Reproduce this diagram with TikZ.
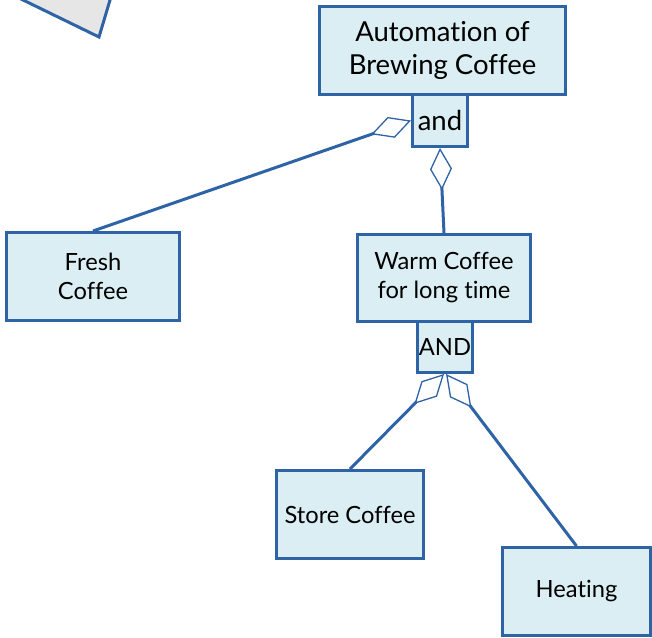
\documentclass[tikz,border=0pt]{standalone}
\usepackage{fontspec}
\setmainfont{Lato}[Ligatures=NoCommon]
\usetikzlibrary{arrows.meta}
\definecolor{edgeblue}{RGB}{46,99,166}
\definecolor{boxfill}{RGB}{218,238,243}
\definecolor{shapegray}{RGB}{230,230,230}
\tikzset{
  goal/.style={draw=edgeblue, fill=boxfill, line width=3pt, align=center,
    inner sep=0pt, anchor=north west},
  bigtext/.style={font=\fontsize{27.5}{33}\selectfont},
  smalltext/.style={font=\fontsize{23.7}{29}\selectfont},
  decomp/.style={draw=edgeblue, line width=3pt,
    -{Diamond[open, length=42pt, width=22pt, line width=1.3pt]}},
}
\begin{document}
\begin{tikzpicture}[x=1pt, y=1pt]
  \useasboundingbox (0,0) rectangle (652,-637);
  % corner of a grey shape cut off by the edge of the drawing
  \begin{scope}
    \clip (0,0) rectangle (652,-637);
    \draw[edgeblue, fill=shapegray, line width=3pt, line join=miter]
      (2.5,10) -- (99,-37) -- (113,10) -- cycle;
  \end{scope}

  % goals
  \node[goal, bigtext, minimum width=246pt, minimum height=88pt] (auto) at (318,-5)
    {Automation of\\Brewing Coffee};
  \node[goal, bigtext, minimum width=55pt, minimum height=52pt] (and) at (411,-93) {and};
  \node[goal, smalltext, minimum width=173pt, minimum height=88pt] (fresh) at (5,-231)
    {Fresh\\Coffee};
  \node[goal, smalltext, minimum width=173pt, minimum height=87pt] (warm) at (356,-233)
    {Warm Coffee\\for long time};
  \node[goal, smalltext, minimum width=55pt, minimum height=51pt] (AND) at (416,-320) {AND};
  \node[goal, smalltext, minimum width=147pt, minimum height=88pt] (store) at (275,-469)
    {Store Coffee};
  \node[goal, smalltext, minimum width=148pt, minimum height=88pt] (heat) at (501,-546)
    {Heating};

  % decompositions
  \draw[decomp] (fresh.north) -- (and.west);
  \draw[decomp] (warm.north) -- (and.south);
  \draw[decomp] (store.north) -- ([xshift=-1pt]AND.south);
  \draw[decomp] (heat.north) -- ([xshift=1pt]AND.south);
\end{tikzpicture}
\end{document}
